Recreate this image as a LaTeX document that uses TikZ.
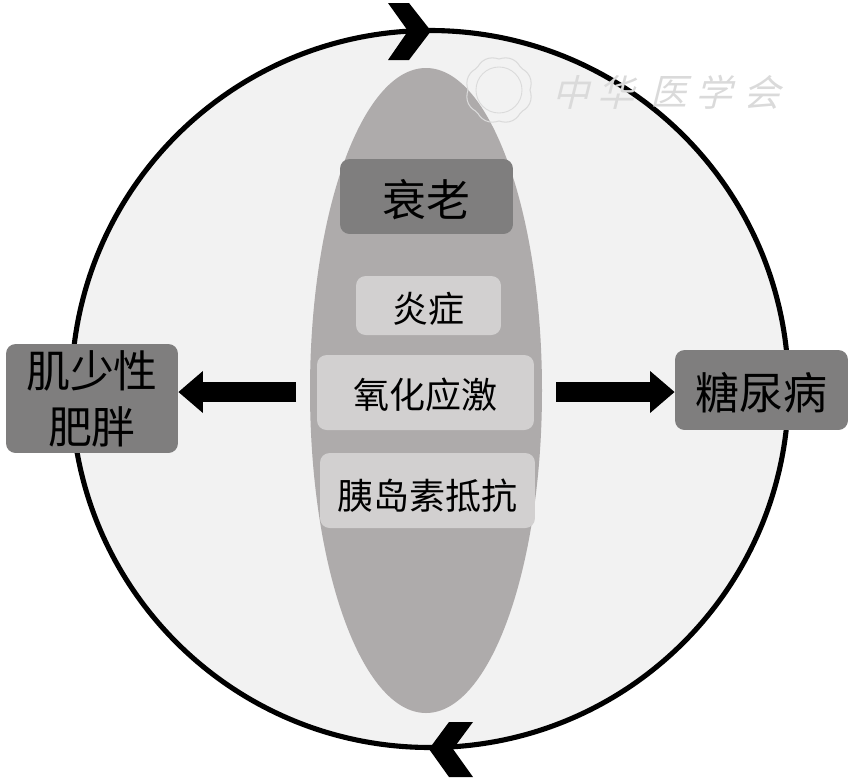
\documentclass[tikz,border=0pt]{standalone}
\usepackage{fontspec}
\setmainfont{Noto Sans CJK SC}
\usetikzlibrary{arrows.meta}
\definecolor{ringfill}{HTML}{F2F2F2}
\definecolor{lensfill}{HTML}{AEABAB}
\definecolor{darkbox}{HTML}{7F7E7E}
\definecolor{lightbox}{HTML}{D2D0D0}
\definecolor{stamp}{HTML}{DADADA}
\newcommand{\lowered}[2][1.7pt]{\raisebox{-\dimexpr0.38em+#1\relax}[0.6em][0.6em]{#2}}
\tikzset{
	darkcard/.style={fill=darkbox, rounded corners=5.5pt, inner sep=0pt, align=center},
	lightcard/.style={fill=lightbox, rounded corners=5.5pt, inner sep=0pt},
	blockarrow/.style={line width=11.9pt, -{Triangle[length=14pt, width=23pt]}, shorten >=0pt},
	stampchar/.style={color=stamp, font=\fontsize{21}{24}\selectfont, inner sep=0pt, xslant=0.25}
}

\begin{document}
\begin{tikzpicture}[x=0.02cm, y=-0.02cm]
	\useasboundingbox (0, 0) rectangle (853, 782);
	
	\draw[line width=2.9pt, fill=ringfill] (430, 389) circle (358.5);
	\fill[lensfill] (426, 390.5) ellipse (116 and 322.5);
	
	% top and bottom chevrons
	\fill (388, 3) -- (409, 3) -- (431, 31) -- (409, 60) -- (388, 60) -- (408, 31) -- cycle;
	\fill (429, 749) -- (449, 722) -- (473, 722) -- (453, 749) -- (473, 777) -- (449, 777) -- cycle;
	
	% watermark
	\draw[stamp, line width=0.6pt, shift={(499, 90)}] plot[domain=0:354, samples=60, smooth cycle] ({\x}:{31+2.5*abs(sin(4*\x))});
	\draw[stamp, line width=0.5pt] (499, 90) circle (23);
	\foreach \glyph/\posx in {中/574, 华/619, 医/672, 学/717, 会/765}
		\node[stampchar] (stamp\posx) at (\posx, 92) {\glyph};
	
	\node[darkcard, minimum width=3.46cm, minimum height=1.5cm, font=\fontsize{25}{30}\selectfont] (aging) at (426.5, 196.5) {\lowered{衰老}};
	\node[lightcard, minimum width=2.9cm, minimum height=1.18cm, font=\fontsize{20.5}{24}\selectfont] (inflam) at (428.5, 305.5) {\lowered{炎症}};
	\node[lightcard, minimum width=4.34cm, minimum height=1.5cm, font=\fontsize{20.5}{24}\selectfont] (oxid) at (425.5, 392.5) {\lowered[1.2pt]{氧化应激}};
	\node[lightcard, minimum width=4.3cm, minimum height=1.5cm, font=\fontsize{20.5}{24}\selectfont] (resist) at (427.5, 490.5) {\lowered[2.8pt]{胰岛素抵抗}};
	
	\node[darkcard, minimum width=3.44cm, minimum height=2.18cm, font=\fontsize{25}{30}\selectfont] (sarco) at (92, 398.5) {肌少性\\[2pt]肥胖};
	\node[darkcard, minimum width=3.46cm, minimum height=1.6cm, font=\fontsize{25}{30}\selectfont] (diab) at (761.5, 390) {\lowered{糖尿病}};
	
	\coordinate (leftstart) at (296, 392);
	\coordinate (rightstart) at (556, 392);
	\draw[blockarrow] (leftstart) -- (leftstart -| sarco.east);
	\draw[blockarrow] (rightstart) -- (rightstart -| diab.west);
\end{tikzpicture}
\end{document}
